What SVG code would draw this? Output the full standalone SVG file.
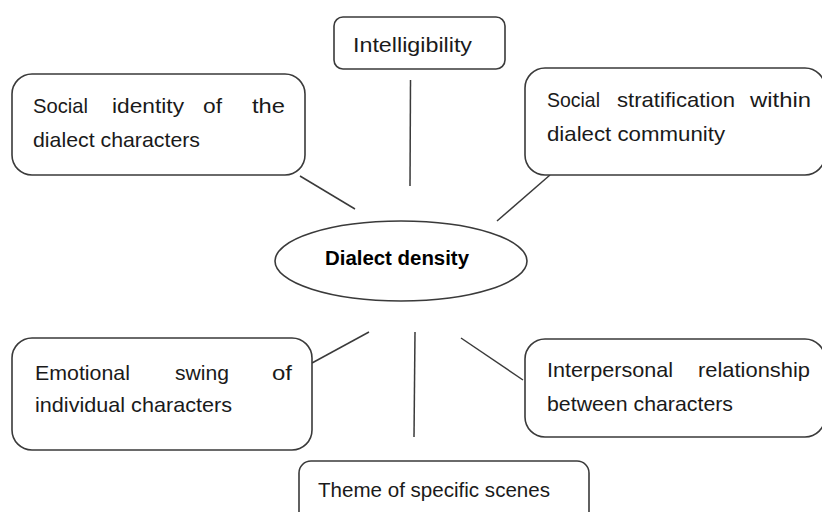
<svg xmlns="http://www.w3.org/2000/svg" width="822" height="512" viewBox="0 0 822 512">
  <style>
    .box { fill: #ffffff; stroke: #3a3a3a; stroke-width: 1.6; }
    .lbl { font-family: "Liberation Sans", Arial, sans-serif; font-size: 21px; fill: #1a1a1a; }
    .hub { font-family: "Liberation Sans", Arial, sans-serif; font-size: 20px; font-weight: bold; fill: #000000; }
    .link { stroke: #3a3a3a; stroke-width: 1.5; fill: none; }
  </style>
  <rect width="822" height="512" fill="#ffffff"/>

  <g id="connectors">
    <line class="link" x1="300" y1="176" x2="355" y2="209"/>
    <line class="link" x1="410.5" y1="80" x2="410" y2="186"/>
    <line class="link" x1="550" y1="175" x2="497" y2="221"/>
    <line class="link" x1="312" y1="363" x2="369" y2="332"/>
    <line class="link" x1="415" y1="332" x2="414" y2="437"/>
    <line class="link" x1="461" y1="338" x2="523" y2="380"/>
  </g>

  <g id="hub">
    <ellipse class="box" cx="401" cy="261" rx="126" ry="40"/>
    <text class="hub" x="325" y="265" textLength="144" lengthAdjust="spacingAndGlyphs">Dialect density</text>
  </g>

  <g id="intelligibility">
    <rect class="box" x="334" y="17" width="171" height="52" rx="9"/>
    <text class="lbl" x="353" y="52" textLength="119" lengthAdjust="spacingAndGlyphs">Intelligibility</text>
  </g>

  <g id="social-identity">
    <rect class="box" x="12" y="74" width="293" height="101" rx="20"/>
    <text class="lbl" x="33" y="113" textLength="55" lengthAdjust="spacingAndGlyphs">Social</text>
    <text class="lbl" x="112" y="113" textLength="72" lengthAdjust="spacingAndGlyphs">identity</text>
    <text class="lbl" x="203" y="113" textLength="19" lengthAdjust="spacingAndGlyphs">of</text>
    <text class="lbl" x="252" y="113" textLength="33" lengthAdjust="spacingAndGlyphs">the</text>
    <text class="lbl" x="33" y="147" textLength="167" lengthAdjust="spacingAndGlyphs">dialect characters</text>
  </g>

  <g id="social-stratification">
    <rect class="box" x="525" y="68" width="300" height="107" rx="20"/>
    <text class="lbl" x="547" y="107" textLength="53" lengthAdjust="spacingAndGlyphs">Social</text>
    <text class="lbl" x="617" y="107" textLength="118" lengthAdjust="spacingAndGlyphs">stratification</text>
    <text class="lbl" x="750" y="107" textLength="61" lengthAdjust="spacingAndGlyphs">within</text>
    <text class="lbl" x="547" y="141" textLength="178" lengthAdjust="spacingAndGlyphs">dialect community</text>
  </g>

  <g id="emotional-swing">
    <rect class="box" x="12" y="338" width="300" height="112" rx="20"/>
    <text class="lbl" x="35" y="380" textLength="95" lengthAdjust="spacingAndGlyphs">Emotional</text>
    <text class="lbl" x="175" y="380" textLength="54" lengthAdjust="spacingAndGlyphs">swing</text>
    <text class="lbl" x="272" y="380" textLength="20" lengthAdjust="spacingAndGlyphs">of</text>
    <text class="lbl" x="35" y="412" textLength="197" lengthAdjust="spacingAndGlyphs">individual characters</text>
  </g>

  <g id="interpersonal">
    <rect class="box" x="525" y="339" width="300" height="98" rx="20"/>
    <text class="lbl" x="547" y="377" textLength="126" lengthAdjust="spacingAndGlyphs">Interpersonal</text>
    <text class="lbl" x="698" y="377" textLength="112" lengthAdjust="spacingAndGlyphs">relationship</text>
    <text class="lbl" x="547" y="411" textLength="186" lengthAdjust="spacingAndGlyphs">between characters</text>
  </g>

  <g id="theme">
    <rect class="box" x="299" y="461" width="290" height="70" rx="12"/>
    <text class="lbl" x="318" y="497" textLength="232" lengthAdjust="spacingAndGlyphs">Theme of specific scenes</text>
  </g>
</svg>
